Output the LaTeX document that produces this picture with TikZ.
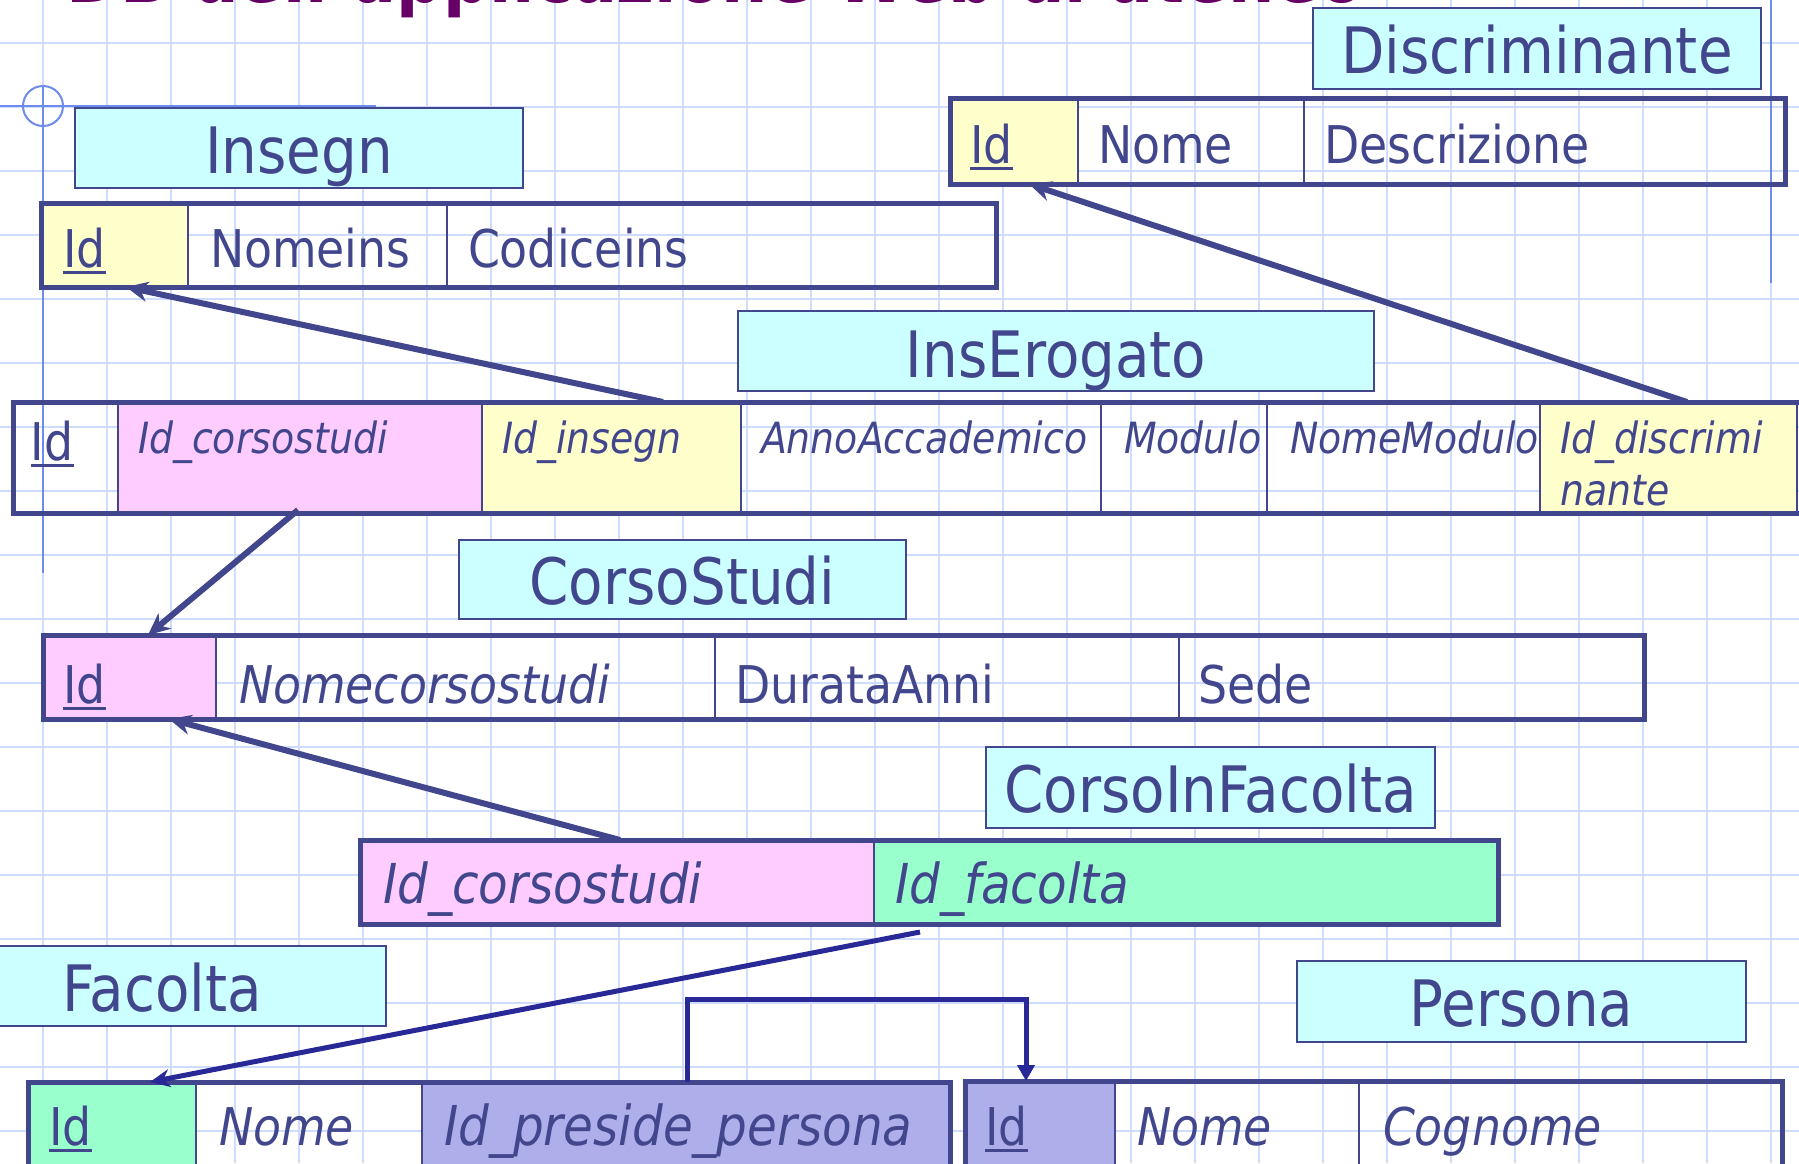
\documentclass[tikz,border=0pt]{standalone}
\usepackage{fontspec}
\setmainfont{DejaVu Sans}[FakeStretch=0.88]
\usetikzlibrary{fit,calc,arrows.meta}
\definecolor{navy}{RGB}{66,70,140}
\definecolor{navyb}{RGB}{40,40,150}
\definecolor{gridc}{RGB}{206,220,255}
\definecolor{crossc}{RGB}{110,140,235}
\definecolor{labc}{RGB}{204,255,255}
\definecolor{yelc}{RGB}{255,255,204}
\definecolor{pinkc}{RGB}{255,204,255}
\definecolor{greenc}{RGB}{153,255,204}
\definecolor{purc}{RGB}{174,174,234}
\definecolor{titlec}{RGB}{102,0,102}
\newcommand\myLab{\fontsize{32pt}{36pt}\selectfont}
\newcommand\myCell{\fontsize{26pt}{30pt}\selectfont}
\newcommand\mySmall{\fontsize{21.5pt}{26pt}\selectfont}
\newcommand\myMid{\fontsize{27.5pt}{31pt}\selectfont}
\newcommand\myTitle{\fontsize{37pt}{40pt}\selectfont\bfseries}
\newcommand\myUl[1]{\leavevmode\setbox0\hbox{#1}\rlap{\color{navy}\rule[-0.14em]{\wd0}{0.06em}}\box0}
\newcommand\mycell[6]{\node[cell,#6,fit={(#2,#3)(#4,#5)}] (#1) {};}
\tikzset{
  cell/.style={draw=navy, line width=1.2pt, inner sep=0pt, outer sep=0pt},
  tbl/.style={draw=navy, line width=2.5pt, inner sep=0pt, outer sep=0pt},
  lab/.style={draw=navy, line width=0.8pt, fill=labc, inner sep=0pt, outer sep=0pt},
  labtxt/.style={anchor=base, inner sep=0pt, outer sep=0pt, text=navy, font=\myLab},
  txt/.style={anchor=base west, inner sep=0pt, outer sep=0pt, text=navy},
  gridline/.style={draw=gridc, line width=1pt},
  crossline/.style={draw=crossc, line width=1pt},
  fk/.style={draw=navy, line width=3pt, -{Stealth[length=11pt,width=10pt]}},
  fkb/.style={draw=navyb, line width=2.5pt, -{Stealth[length=10pt,width=9pt]}},
  elb/.style={draw=navyb, line width=2.5pt, -{Triangle[length=8pt,width=8.5pt]}},
}
\begin{document}
\begin{tikzpicture}[x=0.5pt,y=-0.5pt]
\useasboundingbox (0,0) rectangle (1799,1163);
\clip (0,0) rectangle (1799,1163);
\fill[white] (0,0) rectangle (1799,1163);
% grid
\foreach \k in {0,...,27} \draw[gridline] ({43+64*\k},0) -- ({43+64*\k},1163);
\foreach \k in {0,...,17} \draw[gridline] (0,{43+64*\k}) -- (1799,{43+64*\k});
% slide marks
\draw[crossline] (0,106) -- (376,106);
\draw[crossline] (43,85) -- (43,573);
\draw[crossline] (43,106) circle[radius=20];
\draw[crossline] (1771,0) -- (1771,283);
% title
\node[txt, text=titlec, font=\myTitle] (title) at (66,2) {DB dell'applicazione Web di ateneo};

% ---------- labels ----------
\node[lab, fit={(75,108)(523,188)}] (l-ins) {};
\node[labtxt] (l-ins-t) at ($(l-ins.center)+(0,25)$) {Insegn};
\node[lab, fit={(1313,8)(1761,89)}] (l-dis) {};
\node[labtxt] (l-dis-t) at ($(l-dis.center)+(0,25)$) {Discriminante};
\node[lab, fit={(738,311)(1374,391)}] (l-ie) {};
\node[labtxt] (l-ie-t) at ($(l-ie.center)+(0,26)$) {InsErogato};
\node[lab, fit={(459,540)(906,619)}] (l-cs) {};
\node[labtxt] (l-cs-t) at ($(l-cs.center)+(0,25)$) {CorsoStudi};
\node[lab, fit={(986,747)(1435,828)}] (l-cf) {};
\node[labtxt] (l-cf-t) at ($(l-cf.center)+(0,25)$) {CorsoInFacolta};
\node[lab, fit={(-62,946)(386,1026)}] (l-fa) {};
\node[labtxt] (l-fa-t) at ($(l-fa.center)+(0,25)$) {Facolta};
\node[lab, fit={(1297,961)(1746,1042)}] (l-pe) {};
\node[labtxt] (l-pe-t) at ($(l-pe.center)+(0,25)$) {Persona};

% ---------- Insegn ----------
\mycell{in-id}{41}{203}{188}{287}{fill=yelc}
\mycell{in-nome}{188}{203}{447}{287}{}
\mycell{in-cod}{447}{203}{996}{287}{}
\node[tbl, fit={(41,203)(996,287)}] (in) {};
\node[txt, font=\myCell] (t-in-id) at (63,267) {\myUl{Id}};
\node[txt, font=\myCell] (t-in-nome) at (210,267) {Nomeins};
\node[txt, font=\myCell] (t-in-cod) at (468,267) {Codiceins};

% ---------- Discriminante ----------
\mycell{di-id}{950}{98}{1078}{184}{fill=yelc}
\mycell{di-nome}{1078}{98}{1304}{184}{}
\mycell{di-desc}{1304}{98}{1785}{184}{}
\node[tbl, fit={(950,98)(1785,184)}] (di) {};
\node[txt, font=\myCell] (t-di-id) at (970,163) {\myUl{Id}};
\node[txt, font=\myCell] (t-di-nome) at (1098,163) {Nome};
\node[txt, font=\myCell] (t-di-desc) at (1324,163) {Descrizione};

% ---------- InsErogato ----------
\mycell{ie-id}{13}{402}{118}{513}{}
\mycell{ie-cs}{118}{402}{482}{513}{fill=pinkc}
\mycell{ie-ins}{482}{402}{741}{513}{fill=yelc}
\mycell{ie-aa}{741}{402}{1101}{513}{}
\mycell{ie-mod}{1101}{402}{1267}{513}{}
\mycell{ie-nm}{1267}{402}{1540}{513}{}
\mycell{ie-dis}{1540}{402}{1797}{513}{fill=yelc}
\node[tbl, fit={(13,402)(1820,513)}] (ie) {};
\node[txt, font=\myCell] (t-ie-id) at (31,460) {\myUl{Id}};
\node[txt, font=\mySmall\itshape] (t-ie-cs) at (138,453) {Id\_corsostudi};
\node[txt, font=\mySmall\itshape] (t-ie-ins) at (502,453) {Id\_insegn};
\node[txt, font=\mySmall\itshape] (t-ie-aa) at (761,453) {AnnoAccademico};
\node[txt, font=\mySmall\itshape] (t-ie-mod) at (1124,453) {Modulo};
\node[txt, font=\mySmall\itshape] (t-ie-nm) at (1290,453) {NomeModulo};
\node[txt, font=\mySmall\itshape] (t-ie-dis1) at (1560,453) {Id\_discrimi};
\node[txt, font=\mySmall\itshape] (t-ie-dis2) at (1560,505) {nante};

% ---------- CorsoStudi ----------
\mycell{cs-id}{43}{635}{216}{719}{fill=pinkc}
\mycell{cs-nome}{216}{635}{715}{719}{}
\mycell{cs-dur}{715}{635}{1179}{719}{}
\mycell{cs-sede}{1179}{635}{1644}{719}{}
\node[tbl, fit={(43,635)(1644,719)}] (cs) {};
\node[txt, font=\myCell] (t-cs-id) at (63,703) {\myUl{Id}};
\node[txt, font=\myCell\itshape] (t-cs-nome) at (239,703) {Nomecorsostudi};
\node[txt, font=\myCell] (t-cs-dur) at (735,703) {DurataAnni};
\node[txt, font=\myCell] (t-cs-sede) at (1198,703) {Sede};

% ---------- CorsoInFacolta ----------
\mycell{cf-cs}{360}{840}{874}{924}{fill=pinkc}
\mycell{cf-fac}{874}{840}{1498}{924}{fill=greenc}
\node[tbl, fit={(360,840)(1498,924)}] (cf) {};
\node[txt, font=\myMid\itshape] (t-cf-cs) at (383,903) {Id\_corsostudi};
\node[txt, font=\myMid\itshape] (t-cf-fac) at (895,903) {Id\_facolta};

% ---------- Facolta ----------
\mycell{fa-id}{28}{1082}{196}{1190}{fill=greenc}
\mycell{fa-nome}{196}{1082}{422}{1190}{}
\mycell{fa-pre}{422}{1082}{950}{1190}{fill=purc}
\node[tbl, fit={(28,1082)(950,1190)}] (fa) {};
\node[txt, font=\myCell] (t-fa-id) at (49,1145) {\myUl{Id}};
\node[txt, font=\myCell\itshape] (t-fa-nome) at (219,1145) {Nome};
\node[txt, font=\myMid\itshape] (t-fa-pre) at (444,1145) {Id\_preside\_persona};

% ---------- Persona ----------
\mycell{pe-id}{965}{1081}{1115}{1190}{fill=purc}
\mycell{pe-nome}{1115}{1081}{1359}{1190}{}
\mycell{pe-cog}{1359}{1081}{1782}{1190}{}
\node[tbl, fit={(965,1081)(1782,1190)}] (pe) {};
\node[txt, font=\myCell] (t-pe-id) at (985,1145) {\myUl{Id}};
\node[txt, font=\myCell\itshape] (t-pe-nome) at (1137,1145) {Nome};
\node[txt, font=\myCell\itshape] (t-pe-cog) at (1383,1145) {Cognome};

% ---------- connectors ----------
\draw[fk] ($(ie-ins.north west)+(181,0)$) -- ($(in-id.south west)+(85,0)$);
\draw[fk] ($(ie-dis.north west)+(147,0)$) -- ($(di-id.south west)+(79,0)$);
\draw[fk] ($(ie-cs.south west)+(180,-3)$) -- ($(cs-id.north west)+(105,0)$);
\draw[fk] ($(cf-cs.north west)+(260,0)$) -- ($(cs-id.south west)+(126,0)$);
\draw[fkb] ($(cf-fac.south west)+(46,8)$) -- ($(fa-id.north west)+(122,0)$);
\draw[elb] ($(fa-pre.north west)+(265,0)$) |- ($(pe-id.north west)+(61,-82)$) -- ($(pe-id.north west)+(61,0)$);
\end{tikzpicture}
\end{document}
